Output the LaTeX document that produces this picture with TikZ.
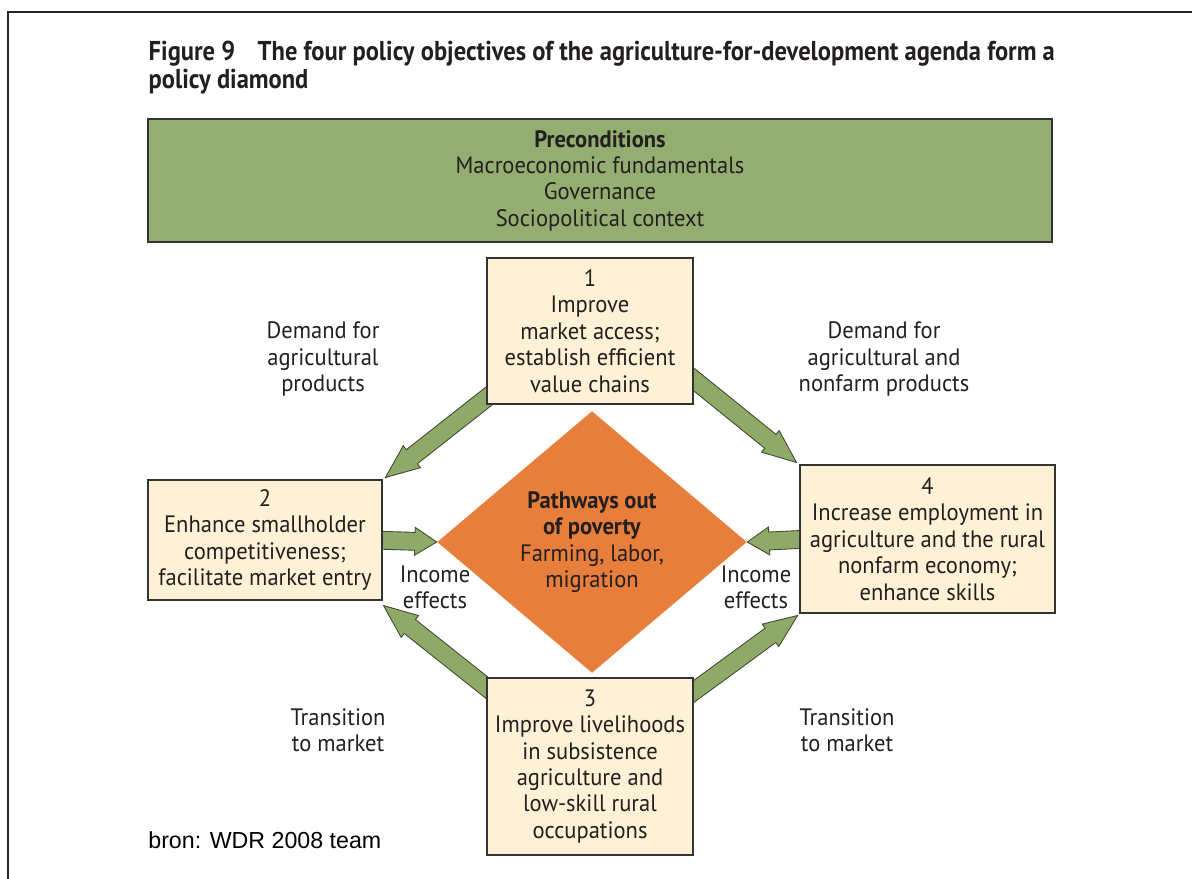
\documentclass[tikz,border=0pt]{standalone}
\usepackage{fontspec}
\setmainfont[FakeStretch=0.95]{PT Sans}
\newfontfamily\titlefont[FakeStretch=0.9]{PT Sans}
\newfontfamily\srcfont{Liberation Sans}
\usepackage{xcolor}
\usetikzlibrary{shapes.geometric, shapes.arrows, calc, positioning}

\definecolor{greenfill}{HTML}{94AD70}
\definecolor{arrowgreen}{HTML}{8FAA68}
\definecolor{arrowline}{HTML}{3E4A30}
\definecolor{cream}{HTML}{FEF1D6}
\definecolor{orangefill}{HTML}{E87E3B}
\definecolor{boxline}{HTML}{333333}
\definecolor{inktext}{HTML}{231F20}

\newcommand{\diafont}{\fontsize{13.5}{15}\selectfont}
\pgfdeclarelayer{bg}
\pgfsetlayers{bg,main}

% fat arrow from tail point to tip point
\newcommand{\blockarrow}[3][]{%
  \path let \p1=(#2), \p2=(#3), \n1={atan2(\y2-\y1,\x2-\x1)}, \n2={veclen(\x2-\x1,\y2-\y1)} in
    node[fatarrow, #1, rotate=\n1, minimum height=\n2, anchor=tail] at (\p1) {};}

\begin{document}
\begin{tikzpicture}[thick, text=inktext,
    box/.style={draw=boxline, line width=0.8pt, fill=cream, align=center, inner sep=2pt, font=\diafont},
    lbl/.style={align=center, font=\diafont},
    fatarrow/.style={single arrow, draw=arrowline, line width=0.5pt, fill=arrowgreen, inner sep=0.17cm,
        single arrow head extend=0.1cm, single arrow tip angle=45}]
    \useasboundingbox (0,0) rectangle (23.84,-17.58);
    \draw[line width=1.1pt, black!85] (0.16,-17.58) |- (23.84,-0.24);

    % title
    \node[anchor=north west, inner sep=0pt, align=left, font=\titlefont\bfseries\fontsize{15.5}{16}\selectfont] (title) at (2.96,-0.8)
        {Figure 9\hspace{0.45cm}The four policy objectives of the agriculture-for-development agenda form a\\policy diamond};

    % preconditions
    \node[draw=boxline, line width=1pt, fill=greenfill, minimum width=18.08cm, minimum height=2.46cm, align=center, font=\diafont] (pre) at (12.0,-3.61)
        {\textbf{Preconditions}\\Macroeconomic fundamentals\\Governance\\Sociopolitical context};

    % the four objectives
    \node[box, minimum width=4.12cm, minimum height=2.92cm] (b1) at (11.8,-6.62)
        {1\\Improve\\market access;\\establish efficient\\value chains};
    \node[box, minimum width=4.68cm, minimum height=2.4cm] (b2) at (5.3,-10.8)
        {2\\Enhance smallholder\\competitiveness;\\facilitate market entry};
    \node[box, minimum width=4.12cm, minimum height=3.54cm] (b3) at (11.8,-15.33)
        {3\\Improve livelihoods\\in subsistence\\agriculture and\\low-skill rural\\occupations};
    \node[box, minimum width=5.1cm, minimum height=2.96cm] (b4) at (18.55,-10.78)
        {4\\Increase employment in\\agriculture and the rural\\nonfarm economy;\\enhance skills};

    \node[diamond, fill=orangefill, minimum width=6.2cm, minimum height=5.24cm, inner sep=0pt, align=center, font=\diafont] (path) at (11.84,-10.84)
        {\textbf{Pathways out}\\\textbf{of poverty}\\Farming, labor,\\migration};

    % arrows behind the boxes
    \begin{pgfonlayer}{bg}
        \blockarrow{$(b1.south west)+(0.24,0.32)$}{$(b2.north east)+(0.06,0.04)$}
        \blockarrow{$(b1.south east)+(-0.24,0.7)$}{$(b4.north west)+(-0.06,0.04)$}
        \blockarrow{$(b3.north west)+(0.24,-0.39)$}{$(b2.south east)+(0.02,-0.1)$}
        \blockarrow{$(b3.north east)+(-0.24,-0.46)$}{$(b4.south west)+(-0.04,-0.04)$}
        \blockarrow[single arrow tip angle=65]{$(b2.east)+(-0.2,0)$}{path.west}
        \blockarrow[single arrow tip angle=65]{$(b4.west)+(0.2,0)$}{path.east}
    \end{pgfonlayer}

    % labels
    \node[lbl] (dem1) at (6.46,-7.18) {Demand for\\agricultural\\products};
    \node[lbl] (dem2) at (17.68,-7.18) {Demand for\\agricultural and\\nonfarm products};
    \node[lbl] (inc1) at (8.7,-11.75) {Income\\effects};
    \node[lbl] (inc2) at (15.12,-11.75) {Income\\effects};
    \node[lbl] (tr1) at (6.76,-14.6) {Transition\\to market};
    \node[lbl] (tr2) at (16.94,-14.6) {Transition\\to market};

    \node[anchor=base west, inner sep=0pt, text=black, font=\srcfont\fontsize{13.2}{15}\selectfont] (src) at (2.96,-16.96) {bron: WDR 2008 team};
\end{tikzpicture}
\end{document}
